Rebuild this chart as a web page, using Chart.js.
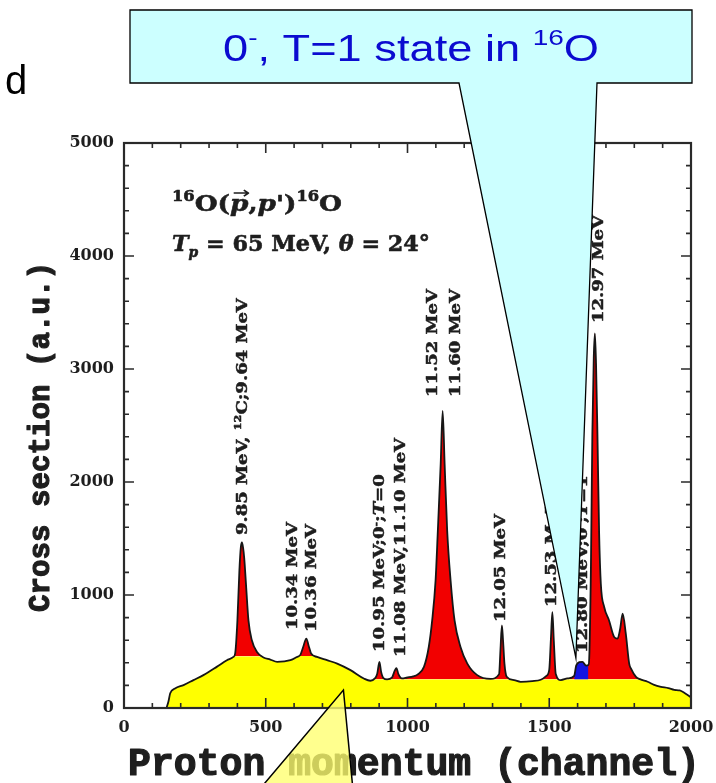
<!DOCTYPE html>
<html>
<head>
<meta charset="utf-8">
<script src="https://cdn.jsdelivr.net/npm/chart.js@4.4.1/dist/chart.umd.min.js"></script>
<style>
  html, body { margin: 0; background: #fff; }
  #wrap { width: 716px; height: 783px; }
</style>
</head>
<body>
<div id="wrap"><canvas id="spec" width="716" height="783"></canvas></div>
<script>
// 16O(p,p') spectrum, counts per channel
const channels = [
  150, 157, 163, 180, 210, 245, 280, 327, 363, 386,
  392, 400, 407, 412, 416, 420, 424, 431, 439, 451,
  469, 492, 516, 540, 587, 610, 622, 632, 643, 652,
  660, 681, 716, 752, 799, 846, 869, 885, 893, 901,
  907, 915, 928, 945, 955, 961, 968, 980, 999, 1020,
  1035, 1058, 1075, 1087, 1099, 1107, 1117, 1124, 1131, 1140,
  1152, 1166, 1187, 1211, 1246, 1293, 1323, 1328, 1333, 1337,
  1342, 1350, 1376, 1399, 1440, 1470, 1490, 1500, 1506, 1511,
  1516, 1523, 1541, 1564, 1588, 1595, 1605, 1617, 1630, 1638,
  1641, 1647, 1652, 1657, 1661, 1665, 1670, 1676, 1682, 1694,
  1711, 1729, 1741, 1750, 1759, 1770, 1782, 1788, 1806, 1820,
  1847, 1870, 1894, 1920, 1941, 1960, 1976, 2000
];
const counts = [
  0, 60, 130, 173, 203, 247, 291, 364, 423, 452,
  482, 775, 1216, 1420, 1465, 1420, 1330, 1069, 775, 599,
  496, 447, 429, 408, 423, 452, 470, 540, 614, 545,
  482, 452, 423, 393, 335, 261, 241, 262, 300, 408,
  320, 265, 253, 268, 330, 352, 300, 262, 270, 280,
  295, 364, 540, 775, 1128, 1568, 2156, 2630, 2156, 1568,
  1128, 775, 540, 393, 291, 258, 300, 520, 730, 600,
  393, 276, 247, 232, 238, 250, 285, 340, 620, 849,
  600, 300, 247, 262, 285, 375, 405, 408, 375, 380,
  440, 1245, 2420, 3100, 3316, 3050, 2420, 1539, 1098, 892,
  775, 628, 614, 700, 834, 658, 393, 350, 276, 255,
  232, 205, 188, 176, 160, 155, 135, 95
];
// smooth continuum under the peaks
const background = [
  0, 60, 130, 173, 203, 247, 291, 364, 423, 452,
  458, 458, 458, 458, 458, 458, 458, 458, 458, 458,
  458, 447, 429, 408, 423, 452, 460, 460, 460, 460,
  460, 452, 423, 393, 335, 258, 241, 255, 255, 255,
  255, 255, 253, 255, 255, 255, 255, 255, 255, 255,
  255, 255, 255, 255, 255, 255, 255, 255, 255, 255,
  255, 255, 255, 255, 255, 255, 255, 255, 255, 255,
  255, 255, 247, 232, 238, 250, 255, 255, 255, 255,
  255, 255, 247, 255, 255, 255, 255, 255, 255, 255,
  255, 255, 255, 255, 255, 255, 255, 255, 255, 255,
  255, 255, 255, 255, 255, 255, 255, 255, 255, 255,
  232, 205, 188, 176, 160, 155, 135, 95
];
// 0-, T=1 peak, shaded separately
const blueRange = [1588, 1638];
const blueFloor = 255;

const xTickValues = [0, 500, 1000, 1500, 2000];
const yTickValues = [0, 1000, 2000, 3000, 4000, 5000];

const peakLabels = [
  [{ t: '9.85 MeV, ' }, { t: '12', sup: 1 }, { t: 'C;9.64 MeV' }],
  [{ t: '10.34 MeV' }],
  [{ t: '10.36 MeV' }],
  [{ t: '10.95 MeV;0' }, { t: '-', sup: 1 }, { t: ';' }, { t: 'T', it: 1 }, { t: '=0' }],
  [{ t: '11.08 MeV,11.10 MeV' }],
  [{ t: '11.52 MeV' }],
  [{ t: '11.60 MeV' }],
  [{ t: '12.05 MeV' }],
  [{ t: '12.53 MeV' }],
  [{ t: '12.80 MeV;0' }, { t: '-', sup: 1 }, { t: ';' }, { t: 'T', it: 1 }, { t: '=1' }],
  [{ t: '12.97 MeV' }]
];
const labelChannel = [417, 594, 661, 901, 972, 1088, 1166, 1325, 1505, 1615, 1671];
const labelFoot = [1531, 690, 673, 496, 451, 2752, 2752, 761, 894, 487, 3407];

const SERIF = '"DejaVu Serif", serif';
const MONO = '"Liberation Mono", "DejaVu Sans Mono", monospace';
const SANS = '"Liberation Sans", Arial, sans-serif';

function runFont(r, o) {
  const size = (r.sup || r.sub) ? o.size * 0.62 : o.size;
  return (r.it ? 'italic ' : '') + (o.weight || 'bold') + ' ' + size + 'px ' + o.family;
}

function runsWidth(ctx, runs, o) {
  let w = 0;
  for (const r of runs) {
    ctx.font = runFont(r, o);
    w += ctx.measureText(r.t).width;
  }
  return w;
}

// draws a line of mixed runs (super/subscripts, italics), optionally
// rotated and stretched to a given length
function drawRuns(ctx, runs, o) {
  const natural = runsWidth(ctx, runs, o);
  const sx = o.width ? o.width / natural : (o.stretch || 1);
  ctx.save();
  ctx.translate(o.x, o.y);
  if (o.angle) ctx.rotate(o.angle);
  ctx.scale(sx, 1);
  ctx.fillStyle = o.color || '#1e1e1e';
  ctx.strokeStyle = o.color || '#1e1e1e';
  ctx.lineWidth = o.heavy || 0;
  ctx.lineJoin = 'round';
  ctx.textAlign = 'left';
  ctx.textBaseline = 'alphabetic';
  let cx = o.align === 'center' ? -natural / 2 : 0;
  const base = o.shift || 0;
  for (const r of runs) {
    ctx.font = runFont(r, o);
    const dy = base + (r.sup ? -o.size * 0.42 : r.sub ? o.size * 0.24 : 0);
    ctx.fillText(r.t, cx, dy);
    if (o.heavy) ctx.strokeText(r.t, cx, dy);
    const w = ctx.measureText(r.t).width;
    if (r.arrow) {
      const ay = dy - o.size * 0.78;
      const x0 = cx + w * 0.2, x1 = cx + w * 1.0;
      ctx.save();
      ctx.lineWidth = 1.6;
      ctx.beginPath();
      ctx.moveTo(x0, ay); ctx.lineTo(x1, ay);
      ctx.moveTo(x1 - 4, ay - 3); ctx.lineTo(x1, ay); ctx.lineTo(x1 - 4, ay + 3);
      ctx.stroke();
      ctx.restore();
    }
    cx += w;
  }
  ctx.restore();
}

const decor = {
  id: 'decor',
  afterDraw(chart) {
    const { ctx, chartArea: a, scales: { x, y } } = chart;
    ctx.save();

    // frame with inward ticks on all four sides
    ctx.strokeStyle = '#2a2a2a';
    ctx.lineWidth = 2.2;
    ctx.strokeRect(a.left, a.top, a.right - a.left, a.bottom - a.top);
    ctx.lineWidth = 1.6;
    ctx.beginPath();
    for (let v = 0; v <= 2000; v += 100) {
      const px = x.getPixelForValue(v);
      const len = v % 500 === 0 ? 10 : 5;
      ctx.moveTo(px, a.bottom); ctx.lineTo(px, a.bottom - len);
      ctx.moveTo(px, a.top); ctx.lineTo(px, a.top + len);
    }
    for (let v = 0; v <= 5000; v += 200) {
      const py = y.getPixelForValue(v);
      const len = v % 1000 === 0 ? 10 : 5;
      ctx.moveTo(a.left, py); ctx.lineTo(a.left + len, py);
      ctx.moveTo(a.right, py); ctx.lineTo(a.right - len, py);
    }
    ctx.stroke();

    // reaction and kinematics
    drawRuns(ctx, [{ t: '16', sup: 1 }, { t: 'O(' }, { t: 'p', it: 1, arrow: 1 }, { t: ',' },
      { t: 'p', it: 1 }, { t: "')" }, { t: '16', sup: 1 }, { t: 'O' }],
      { x: 172, y: 211, size: 23, family: SERIF, width: 170, heavy: 0.6 });
    drawRuns(ctx, [{ t: 'T', it: 1 }, { t: 'p', it: 1, sub: 1 }, { t: ' = 65 MeV, ' },
      { t: 'θ', it: 1 }, { t: ' = 24°' }],
      { x: 172, y: 251, size: 23, family: SERIF, width: 258, heavy: 0.6 });

    // peak labels, reading upwards
    ctx.font = 'bold 14px ' + SERIF;
    const stretch = 108 / ctx.measureText('10.34 MeV').width;
    peakLabels.forEach((runs, i) => {
      drawRuns(ctx, runs, {
        x: x.getPixelForValue(labelChannel[i]), y: y.getPixelForValue(labelFoot[i]),
        angle: -Math.PI / 2, size: 14, family: SERIF, stretch, shift: 5, heavy: 0.5
      });
    });

    // axis titles
    drawRuns(ctx, [{ t: 'Cross section (a.u.)' }],
      { x: 49, y: 612, angle: -Math.PI / 2, size: 30, family: MONO, width: 350, heavy: 1.2 });
    drawRuns(ctx, [{ t: 'Proton momentum (channel)' }],
      { x: 128, y: 775, size: 38, family: MONO, width: 572, heavy: 1.2 });

    // cyan balloon pointing at the 0-, T=1 peak
    const tipX = x.getPixelForValue(1594), tipY = y.getPixelForValue(442);
    ctx.beginPath();
    ctx.moveTo(130, 10); ctx.lineTo(692, 10); ctx.lineTo(692, 83);
    ctx.lineTo(597, 83); ctx.lineTo(tipX, tipY); ctx.lineTo(459, 83);
    ctx.lineTo(130, 83); ctx.closePath();
    ctx.fillStyle = '#ccffff';
    ctx.fill();
    ctx.strokeStyle = '#000';
    ctx.lineWidth = 1.3;
    ctx.stroke();
    drawRuns(ctx, [{ t: '0' }, { t: '-', sup: 1 }, { t: ', T=1 state in ' }, { t: '16', sup: 1 }, { t: 'O' }],
      { x: 411, y: 61, size: 37, family: SANS, weight: 'normal', color: '#0b0bd0', align: 'center', width: 376 });

    // yellow pointer into the continuum
    const yx = x.getPixelForValue(774), yy = y.getPixelForValue(159);
    ctx.beginPath();
    ctx.moveTo(yx, yy); ctx.lineTo(353, 790); ctx.lineTo(259, 790); ctx.closePath();
    ctx.fillStyle = 'rgba(255, 255, 110, 0.78)';
    ctx.fill();
    ctx.lineWidth = 1.5;
    ctx.stroke();

    // clipped heading text at the left edge
    ctx.fillStyle = '#000';
    ctx.font = '40px ' + SANS;
    ctx.textAlign = 'left';
    ctx.textBaseline = 'alphabetic';
    ctx.fillText('d', 5, 94);

    ctx.restore();
  }
};

const spectrum = channels.map((c, i) => ({ x: c, y: counts[i] }));
const continuum = channels.map((c, i) => ({ x: c, y: background[i] }));
const bluePeak = spectrum.filter(p => p.x >= blueRange[0] && p.x <= blueRange[1]);

const tickFont = { family: SERIF, size: 16, weight: 'bold' };

new Chart(document.getElementById('spec'), {
  type: 'line',
  data: {
    datasets: [
      { label: 'spectrum', data: spectrum, borderColor: '#161616', borderWidth: 1.8, fill: false },
      { label: '0-, T=1', data: bluePeak, borderWidth: 0, borderColor: 'transparent',
        backgroundColor: '#1414e0', fill: { value: blueFloor } },
      { label: 'peaks', data: spectrum, borderWidth: 0, borderColor: 'transparent',
        fill: { target: 3, above: '#f20000', below: '#ffffff' } },
      { label: 'continuum', data: continuum, borderWidth: 0, borderColor: 'transparent',
        backgroundColor: '#ffff00', fill: 'origin' }
    ]
  },
  options: {
    responsive: false,
    animation: false,
    devicePixelRatio: 1,
    elements: {
      point: { radius: 0 },
      line: { cubicInterpolationMode: 'monotone' }
    },
    layout: { padding: { top: 143, right: 0, left: 0, bottom: 0 } },
    plugins: { legend: { display: false }, tooltip: { enabled: false } },
    scales: {
      x: {
        type: 'linear', min: 0, max: 2000,
        afterBuildTicks: s => { s.ticks = xTickValues.map(v => ({ value: v })); },
        ticks: { font: tickFont, color: '#1e1e1e', padding: 10, maxRotation: 0, callback: v => String(v) },
        grid: { display: false, drawTicks: false },
        border: { display: false },
        afterFit: s => { s.height = 75; s.paddingRight = 25; }
      },
      y: {
        type: 'linear', min: 0, max: 5000,
        afterBuildTicks: s => { s.ticks = yTickValues.map(v => ({ value: v })); },
        ticks: { font: tickFont, color: '#1e1e1e', padding: 10, callback: v => String(v) },
        grid: { display: false, drawTicks: false },
        border: { display: false },
        afterFit: s => { s.width = 124; }
      }
    }
  },
  plugins: [decor]
});
</script>
</body>
</html>
